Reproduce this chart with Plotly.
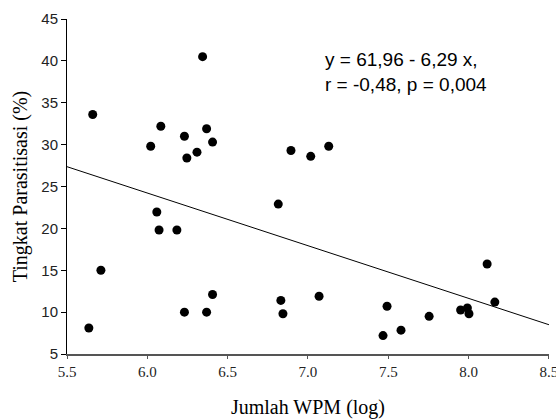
import plotly.graph_objects as go

# Data
wpm_log = [5.66, 6.344, 6.021, 6.084, 6.231, 6.246, 6.309, 6.369, 6.406, 6.815,
           6.059, 6.073, 6.184, 5.711, 5.636, 6.231, 6.369, 6.406,
           6.831, 6.844, 7.069, 7.492, 7.467, 7.579, 7.754, 7.95, 7.992, 8.002,
           8.115, 8.163, 6.894, 7.017, 7.129]
parasitisasi = [33.6, 40.5, 29.8, 32.2, 31.0, 28.4, 29.1, 31.9, 30.3, 22.9,
                21.95, 19.8, 19.8, 15.0, 8.1, 10.0, 10.0, 12.1,
                11.4, 9.8, 11.9, 10.7, 7.2, 7.85, 9.5, 10.25, 10.5, 9.8,
                15.75, 11.2, 29.3, 28.6, 29.8]

intercept = 61.96
slope = -6.29
line_x = [5.5, 8.5]
line_y = [intercept + slope * v for v in line_x]

x_ticks = [5.5, 6.0, 6.5, 7.0, 7.5, 8.0, 8.5]
y_ticks = [5, 10, 15, 20, 25, 30, 35, 40, 45]

fig = go.Figure()
fig.add_trace(go.Scatter(x=line_x, y=line_y, mode="lines",
                         line=dict(color="black", width=1), showlegend=False,
                         hoverinfo="skip"))
fig.add_trace(go.Scatter(x=wpm_log, y=parasitisasi, mode="markers",
                         marker=dict(color="black", size=9), showlegend=False))

fig.add_annotation(text="y = 61,96 - 6,29 x,<br>r = -0,48, p = 0,004",
                   xref="paper", yref="paper", x=0.531, y=0.842,
                   xanchor="left", yanchor="middle", align="left",
                   showarrow=False,
                   font=dict(family="Liberation Sans, Arial", size=19, color="black"))

fig.update_layout(
    width=556, height=419,
    margin=dict(l=67, r=7, t=19, b=65),
    paper_bgcolor="white", plot_bgcolor="white",
    xaxis=dict(range=[5.5, 8.5001], tickvals=x_ticks,
               ticktext=[f"{v:.1f}" for v in x_ticks],
               ticklabeloverflow="allow", automargin=False,
               showgrid=False, zeroline=False,
               showline=True, linecolor="#555", linewidth=1.5,
               ticks="outside", ticklen=3, tickcolor="#555",
               tickfont=dict(family="Liberation Serif, Times New Roman", size=15, color="#222"),
               title=dict(text="Jumlah WPM (log)", standoff=22,
                          font=dict(family="Liberation Serif, Times New Roman", size=20, color="black"))),
    yaxis=dict(range=[5, 45], tickvals=y_ticks, automargin=False,
               showgrid=False, zeroline=False,
               showline=True, linecolor="black", linewidth=1,
               ticks="outside", ticklen=5, tickcolor="black",
               tickfont=dict(family="Liberation Sans, Arial", size=15, color="#222"),
               title=dict(text="Tingkat Parasitisasi (%)", standoff=8,
                          font=dict(family="Liberation Serif, Times New Roman", size=20, color="black"))),
)

fig.write_html("out.html")
